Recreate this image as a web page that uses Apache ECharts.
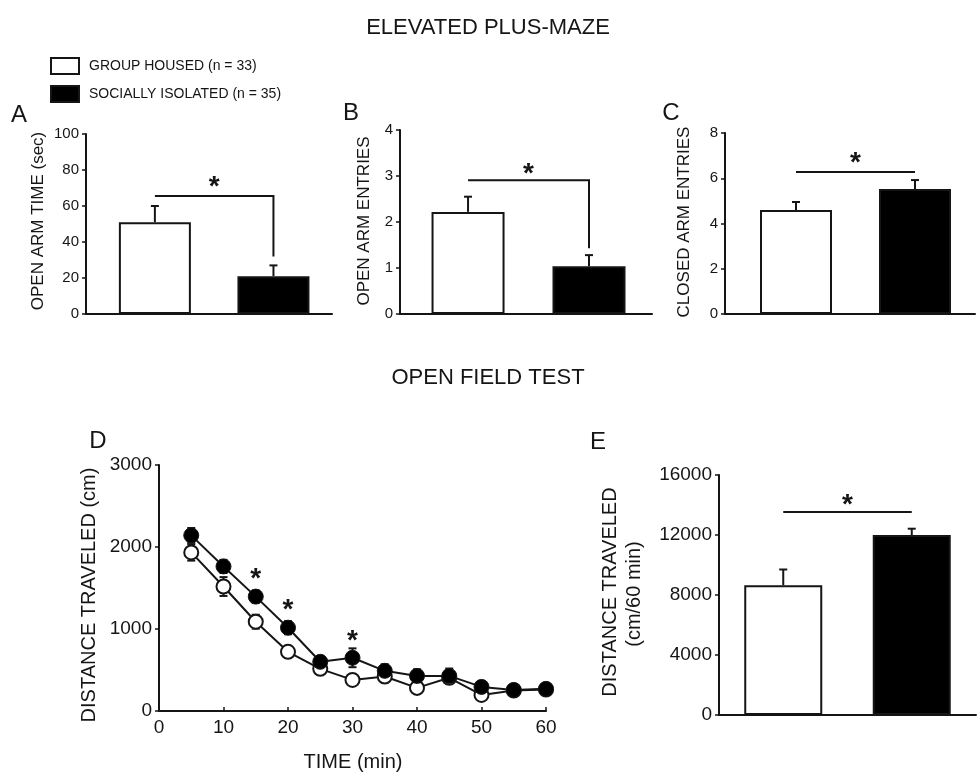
<!DOCTYPE html>
<html>
<head>
<meta charset="utf-8">
<script src="https://cdn.jsdelivr.net/npm/echarts@6/dist/echarts.min.js"></script>
<style>
  html, body { margin: 0; padding: 0; background: #fff; }
  #main { width: 977px; height: 775px; }
</style>
</head>
<body>
<div id="main"></div>
<script>
// group names
var groups = ['GROUP HOUSED (n = 33)', 'SOCIALLY ISOLATED (n = 35)'];

// A: open arm time (sec), [group housed, isolated]
var openArmTime = [51, 21];
var openArmTimeErr = [9, 6];
// B: open arm entries
var openArmEntries = [2.22, 1.04];
var openArmEntriesErr = [0.33, 0.24];
// C: closed arm entries
var closedArmEntries = [4.6, 5.52];
var closedArmEntriesErr = [0.35, 0.4];
// E: total distance (cm/60 min)
var totalDistance = [8650, 12000];
var totalDistanceErr = [1050, 420];

// D: distance per 5 min bin
var timeMin = [5, 10, 15, 20, 25, 30, 35, 40, 45, 50, 55, 60];
var distGroup = [1934, 1518, 1089, 722, 514, 379, 420, 282, 405, 196, 250, 262];
var distGroupErr = [100, 115, 85, 70, 60, 50, 70, 50, 60, 60, 45, 50];
var distIsol = [2142, 1763, 1395, 1016, 600, 649, 490, 428, 428, 294, 257, 270];
var distIsolErr = [90, 80, 75, 80, 70, 115, 80, 80, 90, 70, 50, 60];
var starTimes = [15, 20, 30];

// significance brackets: [bracket height, drop end (or null)]
var sigA = [65.5, 32];
var sigB = [2.91, 1.43];
var sigC = [6.28, null];
var sigE = [13530, null];

var FONT = '"Liberation Sans", Arial, sans-serif';
var INK = '#151515';

var myChart = echarts.init(document.getElementById('main'));

function plain(v) { return String(v); }

function hiddenX(idx) {
    return {
        type: 'value', gridIndex: idx, min: 0, max: 1,
        axisLine: { show: true, onZero: false, lineStyle: { color: INK, width: 2 } },
        axisTick: { show: false }, axisLabel: { show: false }, splitLine: { show: false }
    };
}
function yAx(idx, max, step, fs) {
    return {
        type: 'value', gridIndex: idx, min: 0, max: max, interval: step,
        axisLine: { show: true, lineStyle: { color: INK, width: 2 } },
        axisTick: { show: true, length: 4, lineStyle: { color: INK, width: 1.5 } },
        axisLabel: { color: INK, fontSize: fs, fontFamily: FONT, margin: 7, formatter: plain },
        splitLine: { show: false }
    };
}
// pos = bar centres along the hidden 0..1 x axis
function bars(idx, pos, vals, width) {
    return [0, 1].map(function (k) {
        return {
            type: 'bar', name: groups[k], xAxisIndex: idx, yAxisIndex: idx,
            barWidth: width, barGap: '-100%',
            data: [[pos[k], vals[k]]],
            itemStyle: { color: k === 0 ? '#fff' : '#000', borderColor: INK, borderWidth: 2 },
            silent: true, z: 2
        };
    });
}
function errBars(idx, xs, vals, errs, both, capW) {
    var d = xs.map(function (x, i) { return [x, vals[i], errs[i]]; });
    return {
        type: 'custom', xAxisIndex: idx, yAxisIndex: idx, data: d, z: 1, silent: true,
        renderItem: function (params, api) {
            var x = api.value(0), m = api.value(1), e = api.value(2);
            var top = api.coord([x, m + e]);
            var bot = api.coord([x, both ? m - e : m]);
            var ls = { stroke: INK, lineWidth: 2 };
            var kids = [
                { type: 'line', shape: { x1: top[0], y1: top[1], x2: bot[0], y2: bot[1] }, style: ls },
                { type: 'line', shape: { x1: top[0] - capW, y1: top[1], x2: top[0] + capW, y2: top[1] }, style: ls }
            ];
            if (both) {
                kids.push({ type: 'line', shape: { x1: bot[0] - capW, y1: bot[1], x2: bot[0] + capW, y2: bot[1] }, style: ls });
            }
            return { type: 'group', children: kids };
        }
    };
}
function bracket(idx, pos, sig, starGap) {
    return {
        type: 'custom', xAxisIndex: idx, yAxisIndex: idx, data: [sig], z: 3, silent: true,
        renderItem: function (params, api) {
            var a = api.coord([pos[0], sig[0]]);
            var b = api.coord([pos[1], sig[0]]);
            var pts = [a, b];
            if (sig[1] !== null) pts.push(api.coord([pos[1], sig[1]]));
            return {
                type: 'group', children: [
                    { type: 'polyline', shape: { points: pts }, style: { stroke: INK, lineWidth: 2, fill: null } },
                    { type: 'text', style: { text: '*', x: (a[0] + b[0]) / 2, y: a[1] - starGap,
                        font: 'bold 28px ' + FONT, fill: INK, align: 'center', verticalAlign: 'middle' } }
                ]
            };
        }
    };
}
function panel(idx, pos, vals, errs, sig, width, starGap) {
    return bars(idx, pos, vals, width).concat([
        errBars(idx, pos, vals, errs, false, 4),
        bracket(idx, pos, sig, starGap)
    ]);
}
function txt(t, x, y, fs, rot) {
    return {
        type: 'text', x: x, y: y, rotation: rot || 0,
        style: { text: t, font: fs + 'px ' + FONT, fill: INK, align: 'center', verticalAlign: 'middle' }
    };
}

var series = [];
series = series.concat(panel(0, [0.28, 0.762], openArmTime, openArmTimeErr, sigA, 72, 9));
series = series.concat(panel(1, [0.27, 0.75], openArmEntries, openArmEntriesErr, sigB, 73, 6));
series = series.concat(panel(2, [0.284, 0.76], closedArmEntries, closedArmEntriesErr, sigC, 72, 9));
series = series.concat(panel(4, [0.25, 0.75], totalDistance, totalDistanceErr, sigE, 78, 7));

// D: time course
series.push(errBars(3, timeMin, distGroup, distGroupErr, true, 4));
series.push(errBars(3, timeMin, distIsol, distIsolErr, true, 4));
series.push({
    type: 'line', name: groups[0], xAxisIndex: 3, yAxisIndex: 3, z: 3, silent: true,
    data: timeMin.map(function (t, i) { return [t, distGroup[i]]; }),
    symbol: 'circle', symbolSize: 14,
    lineStyle: { color: INK, width: 2 },
    itemStyle: { color: '#fff', borderColor: INK, borderWidth: 2 }
});
series.push({
    type: 'line', name: groups[1], xAxisIndex: 3, yAxisIndex: 3, z: 4, silent: true,
    data: timeMin.map(function (t, i) { return [t, distIsol[i]]; }),
    symbol: 'circle', symbolSize: 15,
    lineStyle: { color: INK, width: 2 },
    itemStyle: { color: '#000', borderColor: INK, borderWidth: 1 }
});
series.push({
    type: 'custom', xAxisIndex: 3, yAxisIndex: 3, z: 5, silent: true,
    data: starTimes.map(function (t) { return [t, distIsol[timeMin.indexOf(t)]]; }),
    renderItem: function (params, api) {
        var p = api.coord([api.value(0), api.value(1)]);
        return { type: 'text', style: { text: '*', x: p[0], y: p[1] - 17,
            font: 'bold 28px ' + FONT, fill: INK, align: 'center', verticalAlign: 'middle' } };
    }
});

myChart.setOption({
    backgroundColor: '#fff',
    animation: false,
    legend: {
        data: [{ name: groups[0], icon: 'rect' }, { name: groups[1], icon: 'rect' }],
        left: 50, top: 57, padding: 0, orient: 'vertical',
        itemWidth: 28, itemHeight: 16, itemGap: 10,
        selectedMode: false,
        textStyle: { color: INK, fontSize: 14, fontFamily: FONT, padding: [0, 0, 0, 5] }
    },
    grid: [
        { left: 86, top: 134, width: 246, height: 180 },
        { left: 400, top: 130, width: 252, height: 184 },
        { left: 725, top: 133, width: 250, height: 181 },
        { left: 159, top: 465, width: 387, height: 246 },
        { left: 719, top: 475, width: 257, height: 240 }
    ],
    xAxis: [
        hiddenX(0), hiddenX(1), hiddenX(2),
        {
            type: 'value', gridIndex: 3, min: 0, max: 60, interval: 10,
            axisLine: { show: true, onZero: false, lineStyle: { color: INK, width: 2 } },
            axisTick: { show: true, inside: true, length: 4, lineStyle: { color: INK, width: 1.5 } },
            axisLabel: { color: INK, fontSize: 19, fontFamily: FONT, margin: 7, formatter: plain },
            splitLine: { show: false }
        },
        hiddenX(4)
    ],
    yAxis: [
        yAx(0, 100, 20, 15),
        yAx(1, 4, 1, 15),
        yAx(2, 8, 2, 15),
        yAx(3, 3000, 1000, 19),
        yAx(4, 16000, 4000, 19)
    ],
    graphic: [
        txt('ELEVATED PLUS-MAZE', 488, 28, 22),
        txt('OPEN FIELD TEST', 488, 378, 22),
        txt('A', 19, 115, 24),
        txt('B', 351, 113, 24),
        txt('C', 671, 113, 24),
        txt('D', 98, 441, 24),
        txt('E', 598, 442, 24),
        txt('OPEN ARM TIME (sec)', 38, 221, 17, Math.PI / 2),
        txt('OPEN ARM ENTRIES', 364, 221, 17, Math.PI / 2),
        txt('CLOSED ARM ENTRIES', 684, 222, 17, Math.PI / 2),
        txt('DISTANCE TRAVELED (cm)', 89, 595, 20, Math.PI / 2),
        txt('DISTANCE TRAVELED', 610, 592, 20, Math.PI / 2),
        txt('(cm/60 min)', 634, 594, 20, Math.PI / 2),
        txt('TIME (min)', 353, 762, 20)
    ],
    series: series
});
</script>
</body>
</html>
